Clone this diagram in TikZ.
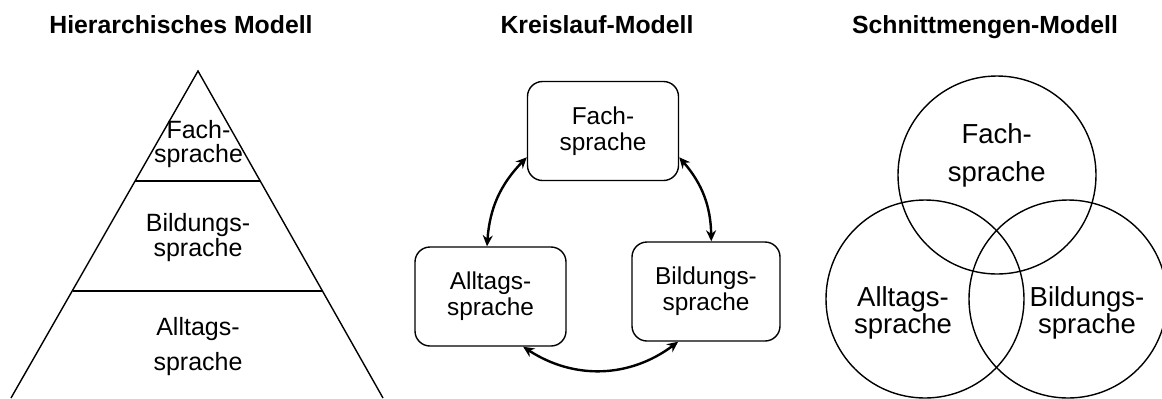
\documentclass[tikz,border=0pt]{standalone}
\usepackage{fontspec}
\setmainfont{Liberation Sans}
\usetikzlibrary{arrows.meta}

\begin{document}
\begin{tikzpicture}[x=0.5pt, y=-0.5pt,
    titel/.style={font=\fontsize{12.4}{14}\selectfont\bfseries, anchor=base},
    stufe/.style={font=\fontsize{12.5}{12}\selectfont, align=center, inner sep=0pt},
    kasten/.style={draw, line width=0.7pt, rounded corners=7.5pt, minimum width=75.5pt,
      minimum height=49.5pt, align=center, font=\fontsize{12.2}{13}\selectfont, inner sep=0pt},
    kreis/.style={draw, line width=0.7pt, circle, minimum size=99pt, inner sep=0pt},
    venntext/.style={font=\fontsize{13.75}{13.5}\selectfont, align=center, inner sep=0pt},
    pfeil/.style={{Stealth[length=5.5pt,width=5pt]}-{Stealth[length=5.5pt,width=5pt]}, line width=1.2pt}]
    \useasboundingbox (0,0) rectangle (1162,398);

    % Ueberschriften
    \node[titel] (t-hier) at (181,33) {Hierarchisches Modell};
    \node[titel] (t-kreis) at (597,33) {Kreislauf-Modell};
    \node[titel] (t-schnitt) at (985,33) {Schnittmengen-Modell};

    % Pyramide mit drei Stufen
    \draw[line width=0.7pt] (11,398) -- (198,71) -- (383,398);
    \draw[line width=0.7pt] (135,181) -- (260,181);
    \draw[line width=0.7pt] (73,291) -- (322,291);
    \node[stufe] (p-fach) at (198.5,143.6) {Fach-\\sprache};
    \node[stufe] (p-bildung) at (198,238) {Bildungs-\\[0.5pt]sprache};
    \node[stufe] (p-alltag) at (198,347) {Alltags-\\[5.5pt]sprache};

    % Kreislauf
    \node[kasten] (fach) at (603,131) {Fach-\\sprache};
    \node[kasten] (alltag) at (490.5,296.5) {Alltags-\\sprache};
    \node[kasten, minimum width=74pt] (bildung) at (706,291.5) {Bildungs-\\sprache};
    \draw[pfeil] (fach.199) to[bend right=20] (alltag.94);
    \draw[pfeil] (fach.-19) to[bend left=20] (bildung.84);
    \draw[pfeil] (alltag.-57) to[bend right=35] (bildung.-119);

    % Schnittmengen
    \node[kreis] (k-fach) at (997,175) {};
    \node[kreis] (k-alltag) at (925,299) {};
    \node[kreis] (k-bildung) at (1068,299) {};
    \node[venntext] (v-fach) at (996.7,155) {Fach-\\[5.5pt]sprache};
    \node[venntext] (v-alltag) at (903,313) {Alltags-\\sprache};
    \node[venntext] (v-bildung) at (1087,313) {Bildungs-\\sprache};
\end{tikzpicture}
\end{document}
